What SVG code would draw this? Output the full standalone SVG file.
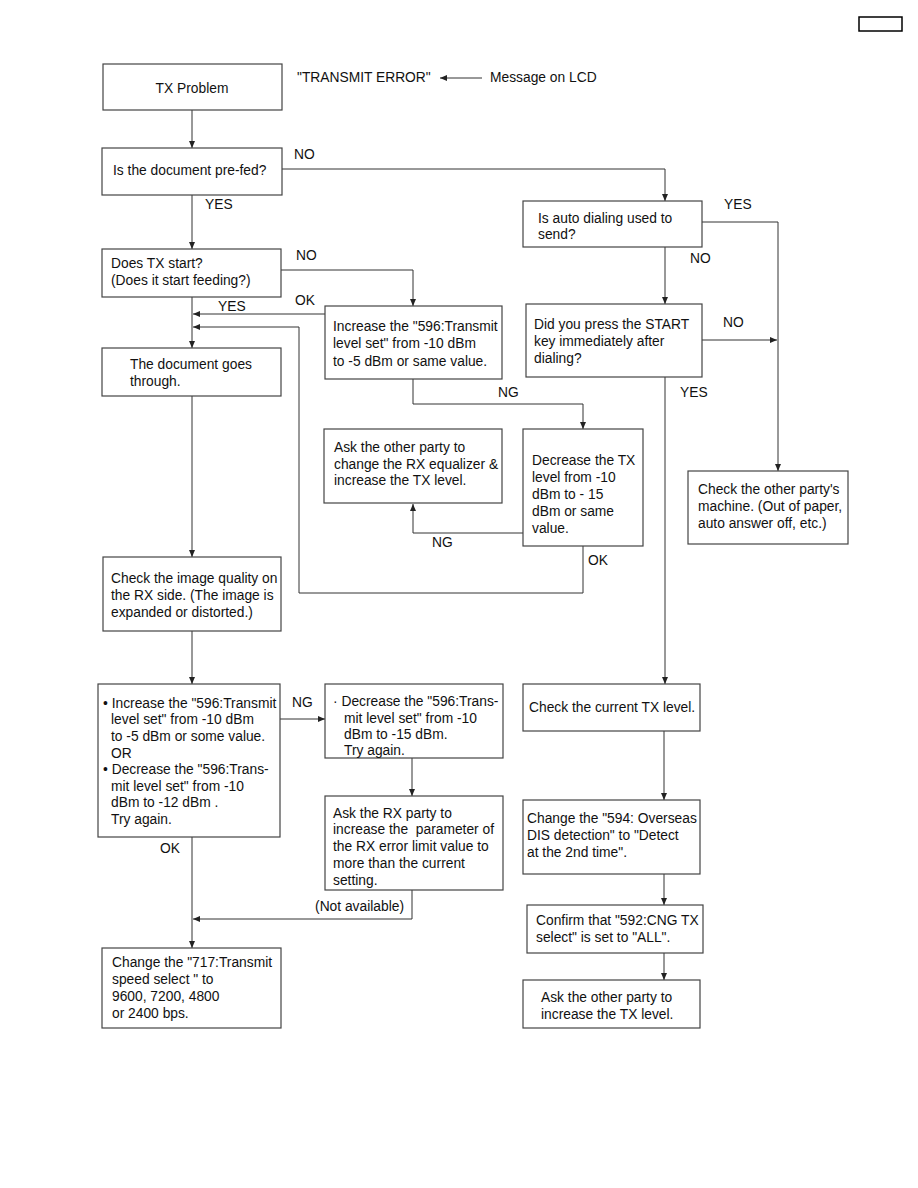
<svg xmlns="http://www.w3.org/2000/svg" width="918" height="1188" viewBox="0 0 918 1188">
<style>
.b{fill:#fff;stroke:#444;stroke-width:1.2}
.c{fill:none;stroke:#333;stroke-width:1}
text{font-family:"Liberation Sans",Arial,sans-serif;font-size:13.8px;fill:#111}
</style>
<defs>
<marker id="ah" markerUnits="userSpaceOnUse" markerWidth="8" markerHeight="8" refX="7" refY="3" orient="auto">
<path d="M0,0 L7,3 L0,6 z" fill="#222"/>
</marker>
</defs>
<rect x="0" y="0" width="918" height="1188" fill="#fff"/>
<rect x="859" y="17" width="43" height="14" fill="none" stroke="#000" stroke-width="1.5"/>

<g id="connectors">
<path class="c" d="M482,78 H440" marker-end="url(#ah)"/>
<path class="c" d="M192,110 V148" marker-end="url(#ah)"/>
<path class="c" d="M282,169 H665 V201" marker-end="url(#ah)"/>
<path class="c" d="M192,195 V249" marker-end="url(#ah)"/>
<path class="c" d="M281,270 H413 V306" marker-end="url(#ah)"/>
<path class="c" d="M192,297 V348" marker-end="url(#ah)"/>
<path class="c" d="M325,314 H193" marker-end="url(#ah)"/>
<path class="c" d="M583,546 V593 H299 V327 H193" marker-end="url(#ah)"/>
<path class="c" d="M413,379 V404 H583 V429" marker-end="url(#ah)"/>
<path class="c" d="M523,533 H413 V504" marker-end="url(#ah)"/>
<path class="c" d="M702,222 H778 V471" marker-end="url(#ah)"/>
<path class="c" d="M665,247 V304" marker-end="url(#ah)"/>
<path class="c" d="M702,340 H777" marker-end="url(#ah)"/>
<path class="c" d="M665,377 V684" marker-end="url(#ah)"/>
<path class="c" d="M192,396 V557" marker-end="url(#ah)"/>
<path class="c" d="M192,631 V684" marker-end="url(#ah)"/>
<path class="c" d="M280,719 H325" marker-end="url(#ah)"/>
<path class="c" d="M412,758 V796" marker-end="url(#ah)"/>
<path class="c" d="M412,890 V919 H193" marker-end="url(#ah)"/>
<path class="c" d="M192,837 V948" marker-end="url(#ah)"/>
<path class="c" d="M664,731 V800" marker-end="url(#ah)"/>
<path class="c" d="M664,874 V905" marker-end="url(#ah)"/>
<path class="c" d="M664,953 V980" marker-end="url(#ah)"/>
</g>

<g id="labels">
<text x="297" y="82">"TRANSMIT ERROR"</text>
<text x="490" y="82">Message on LCD</text>
<text x="294" y="159">NO</text>
<text x="205" y="209">YES</text>
<text x="296" y="260">NO</text>
<text x="295" y="305">OK</text>
<text x="218" y="311">YES</text>
<text x="724" y="209">YES</text>
<text x="690" y="263">NO</text>
<text x="723" y="327">NO</text>
<text x="680" y="397">YES</text>
<text x="498" y="397">NG</text>
<text x="432" y="547">NG</text>
<text x="588" y="565">OK</text>
<text x="292" y="707">NG</text>
<text x="160" y="853">OK</text>
<text x="404" y="911" text-anchor="end">(Not available)</text>
</g>

<g id="n1"><rect class="b" x="103" y="64" width="179" height="46"/><text x="192" y="93" text-anchor="middle">TX Problem</text></g>
<g id="n2"><rect class="b" x="102" y="148" width="180" height="47"/><text x="113" y="175">Is the document pre-fed?</text></g>
<g id="n3"><rect class="b" x="102" y="249" width="179" height="48"/><text x="111" y="268">Does TX start?</text><text x="111" y="285">(Does it start feeding?)</text></g>
<g id="n4"><rect class="b" x="325" y="306" width="177" height="73"/><text x="333" y="331">Increase the "596:Transmit</text><text x="333" y="348">level set" from -10 dBm</text><text x="333" y="366">to -5 dBm or same value.</text></g>
<g id="n5"><rect class="b" x="102" y="348" width="179" height="48"/><text x="130" y="369">The document goes</text><text x="130" y="386">through.</text></g>
<g id="n6"><rect class="b" x="523" y="201" width="179" height="46"/><text x="538" y="223">Is auto dialing used to</text><text x="538" y="239">send?</text></g>
<g id="n7"><rect class="b" x="526" y="304" width="176" height="73"/><text x="534" y="329">Did you press the START</text><text x="534" y="346">key immediately after</text><text x="534" y="363">dialing?</text></g>
<g id="n8"><rect class="b" x="324" y="429" width="178" height="74"/><text x="334" y="452">Ask the other party to</text><text x="334" y="469">change the RX equalizer &amp;</text><text x="334" y="485">increase the TX level.</text></g>
<g id="n9"><rect class="b" x="523" y="429" width="120" height="117"/><text x="532" y="465">Decrease the TX</text><text x="532" y="482">level from -10</text><text x="532" y="499">dBm to - 15</text><text x="532" y="516">dBm or same</text><text x="532" y="533">value.</text></g>
<g id="n10"><rect class="b" x="688" y="471" width="160" height="73"/><text x="698" y="494">Check the other party's</text><text x="698" y="511">machine. (Out of paper,</text><text x="698" y="528">auto answer off, etc.)</text></g>
<g id="n11"><rect class="b" x="103" y="557" width="178" height="74"/><text x="111" y="583">Check the image quality on</text><text x="111" y="600">the RX side. (The image is</text><text x="111" y="617">expanded or distorted.)</text></g>
<g id="n12"><rect class="b" x="98" y="684" width="182" height="153"/>
<text x="103" y="708">• Increase the "596:Transmit</text>
<text x="111" y="724">level set" from -10 dBm</text>
<text x="111" y="741">to -5 dBm or some value.</text>
<text x="111" y="758">OR</text>
<text x="103" y="774">• Decrease the "596:Trans-</text>
<text x="111" y="791">mit level set" from -10</text>
<text x="111" y="807">dBm to -12 dBm .</text>
<text x="111" y="824">Try again.</text></g>
<g id="n13"><rect class="b" x="325" y="684" width="178" height="74"/>
<text x="333" y="706">· Decrease the "596:Trans-</text>
<text x="344" y="723">mit level set" from -10</text>
<text x="344" y="739">dBm to -15 dBm.</text>
<text x="344" y="755">Try again.</text></g>
<g id="n14"><rect class="b" x="325" y="796" width="178" height="94"/>
<text x="333" y="818">Ask the RX party to</text>
<text x="333" y="834">increase the&#160; parameter of</text>
<text x="333" y="851">the RX error limit value to</text>
<text x="333" y="868">more than the current</text>
<text x="333" y="885">setting.</text></g>
<g id="n15"><rect class="b" x="102" y="948" width="179" height="80"/>
<text x="112" y="967">Change the "717:Transmit</text>
<text x="112" y="984">speed select " to</text>
<text x="112" y="1001">9600, 7200, 4800</text>
<text x="112" y="1018">or 2400 bps.</text></g>
<g id="n16"><rect class="b" x="523" y="684" width="177" height="47"/><text x="529" y="712">Check the current TX level.</text></g>
<g id="n17"><rect class="b" x="523" y="800" width="177" height="74"/><text x="527" y="823">Change the "594: Overseas</text><text x="527" y="840">DIS detection" to "Detect</text><text x="527" y="857">at the 2nd time".</text></g>
<g id="n18"><rect class="b" x="527" y="905" width="176" height="48"/><text x="536" y="925">Confirm that "592:CNG TX</text><text x="536" y="942">select" is set to "ALL".</text></g>
<g id="n19"><rect class="b" x="523" y="980" width="177" height="48"/><text x="541" y="1002">Ask the other party to</text><text x="541" y="1019">increase the TX level.</text></g>
</svg>
